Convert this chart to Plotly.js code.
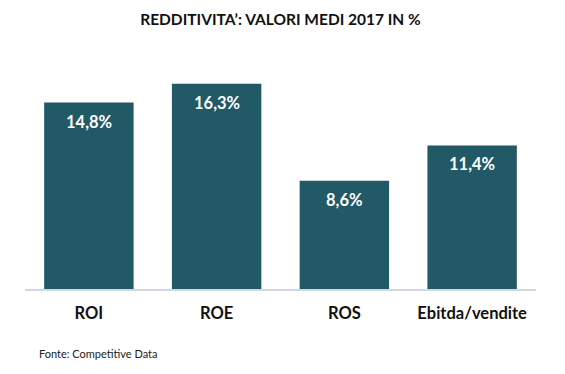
<!DOCTYPE html>
<html>
<head>
<meta charset="utf-8">
<script src="https://cdn.plot.ly/plotly-3.0.1.min.js"></script>
<style>html,body{margin:0;padding:0;background:#fff;}#chart{width:565px;height:374px;}</style>
</head>
<body>
<div id="chart"></div>
<script>
const categories = ["ROI", "ROE", "ROS", "Ebitda/vendite"];
const values = [14.8, 16.3, 8.6, 11.4];
const valueLabels = ["14,8%", "16,3%", "8,6%", "11,4%"];

const FONT = "Lato, 'Open Sans', sans-serif";

const trace = {
  type: "bar",
  x: categories,
  y: values,
  width: 0.70,
  marker: { color: "#215967" },
  hoverinfo: "skip"
};

const annotations = categories.map((c, i) => ({
  x: c, y: values[i], xref: "x", yref: "y",
  text: "<b>" + valueLabels[i] + "</b>",
  showarrow: false, yanchor: "middle", yshift: -19,
  font: { family: FONT, size: 16.5, color: "#ffffff" }
}));
annotations.push({
  xref: "paper", yref: "paper", x: 0.0235, y: -0.285,
  xanchor: "left", yanchor: "middle",
  text: "Fonte: Competitive Data", showarrow: false,
  font: { family: FONT, size: 11, color: "#222222" }
});

const layout = {
  width: 565, height: 374,
  margin: { l: 25, r: 29, t: 61, b: 85 },
  paper_bgcolor: "#ffffff", plot_bgcolor: "#ffffff",
  title: {
    text: "<b>REDDITIVITA’: VALORI MEDI 2017 IN %</b>",
    x: 0.5, xanchor: "center", xref: "paper",
    y: 1 - 20/374, yanchor: "middle",
    font: { family: FONT, size: 15.5, color: "#111111" }
  },
  xaxis: {
    showgrid: false, zeroline: false, showline: true,
    linecolor: "#d0d8e6", linewidth: 1.5,
    ticks: "", ticklabelstandoff: 9,
    tickfont: { family: FONT, size: 16.5, color: "#111111", weight: "bold" },
    fixedrange: true
  },
  yaxis: {
    range: [0, 18.1], visible: false, showgrid: false, zeroline: false,
    fixedrange: true
  },
  annotations: annotations,
  showlegend: false
};

Plotly.newPlot("chart", [trace], layout, { displayModeBar: false, staticPlot: true });
</script>
</body>
</html>
